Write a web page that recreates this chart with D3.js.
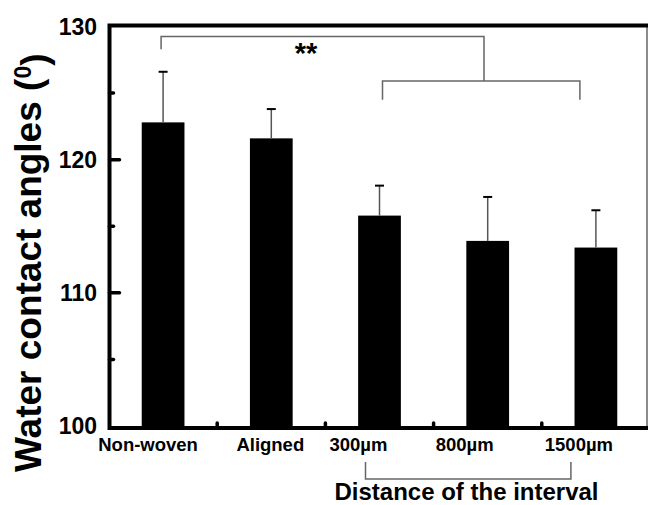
<!DOCTYPE html>
<html>
<head>
<meta charset="utf-8">
<script src="https://cdn.jsdelivr.net/npm/d3@7"></script>
<style>
  body { margin: 0; background: #fff; }
  text { font-family: Arial, "Liberation Sans", sans-serif; font-weight: bold; fill: #000; }
</style>
</head>
<body>
<div id="chart"></div>
<script>
var categories = ["Non-woven", "Aligned", "300\u00b5m", "800\u00b5m", "1500\u00b5m"];
var means = [122.8, 121.6, 115.8, 113.9, 113.4];
var errors = [3.8, 2.2, 2.25, 3.3, 2.8];
var majorTicks = [100, 110, 120, 130];
var minorTicks = [105, 115, 125];
// label nudges, the original labels sit a bit left of the bars
var labelShift = [-15, -1, -21, -23, -17];

var width = 649, height = 505;
var plotL = 109.5, plotR = 648, plotT = 25.5, plotB = 428;

var svg = d3.select("#chart").append("svg")
    .attr("width", width)
    .attr("height", height);

var x = d3.scaleBand()
    .domain(categories)
    .range([109, 650])
    .padding(0);

var y = d3.scaleLinear()
    .domain([100, 130])
    .range([426, 26.5]);

var barW = x.bandwidth() * 0.395;
function xc(c) { return x(c) + x.bandwidth() / 2; }

var data = categories.map(function(c, i) {
    return { cat: c, mean: means[i], err: errors[i], shift: labelShift[i] };
});

// bars
svg.selectAll(".bar")
    .data(data)
  .enter().append("rect")
    .attr("class", "bar")
    .attr("x", function(d) { return xc(d.cat) - barW / 2; })
    .attr("y", function(d) { return y(d.mean); })
    .attr("width", barW)
    .attr("height", function(d) { return y(100) - y(d.mean); })
    .style("fill", "#000");

// error bars (upper only)
svg.selectAll(".err")
    .data(data)
  .enter().append("line")
    .attr("x1", function(d) { return xc(d.cat); })
    .attr("x2", function(d) { return xc(d.cat); })
    .attr("y1", function(d) { return y(d.mean); })
    .attr("y2", function(d) { return y(d.mean + d.err); })
    .style("stroke", "#555")
    .style("stroke-width", 1.5);

svg.selectAll(".cap")
    .data(data)
  .enter().append("line")
    .attr("x1", function(d) { return xc(d.cat) - 4.5; })
    .attr("x2", function(d) { return xc(d.cat) + 4.5; })
    .attr("y1", function(d) { return y(d.mean + d.err); })
    .attr("y2", function(d) { return y(d.mean + d.err); })
    .style("stroke", "#000")
    .style("stroke-width", 2);

// frame
svg.append("line").attr("x1", plotR - 1).attr("x2", plotR - 1).attr("y1", plotT).attr("y2", plotB)
    .style("stroke", "#666").style("stroke-width", 1.5);
svg.append("path")
    .attr("d", "M" + plotR + "," + plotT + "H" + plotL + "V" + plotB + "H" + plotR)
    .style("fill", "none")
    .style("stroke", "#000")
    .style("stroke-width", 4);

// y ticks
svg.selectAll(".ymaj")
    .data(majorTicks.slice(1, 3))
  .enter().append("line")
    .attr("x1", plotL).attr("x2", plotL + 10)
    .attr("y1", function(d) { return y(d); })
    .attr("y2", function(d) { return y(d); })
    .style("stroke", "#000").style("stroke-width", 3.5).style("stroke-linecap", "round");

svg.selectAll(".ymin")
    .data(minorTicks)
  .enter().append("line")
    .attr("x1", plotL).attr("x2", plotL + 4)
    .attr("y1", function(d) { return y(d); })
    .attr("y2", function(d) { return y(d); })
    .style("stroke", "#000").style("stroke-width", 3.5).style("stroke-linecap", "round");

svg.selectAll(".ylab")
    .data(majorTicks)
  .enter().append("text")
    .attr("x", 97)
    .attr("y", function(d) { return y(d); })
    .attr("dy", "0.36em")
    .attr("text-anchor", "end")
    .style("font-size", "23px")
    .text(function(d) { return d; });

// x minor ticks between categories
svg.selectAll(".xmin")
    .data(categories.slice(1))
  .enter().append("line")
    .attr("x1", function(d) { return x(d); })
    .attr("x2", function(d) { return x(d); })
    .attr("y1", plotB).attr("y2", plotB - 5)
    .style("stroke", "#000").style("stroke-width", 3.5).style("stroke-linecap", "round");

svg.selectAll(".xlab")
    .data(data)
  .enter().append("text")
    .attr("x", function(d) { return xc(d.cat) + d.shift; })
    .attr("y", 451)
    .attr("text-anchor", "middle")
    .style("font-size", "18.5px")
    .text(function(d) { return d.cat; });

// y title
var yt = svg.append("text")
    .attr("transform", "translate(41," + 472 + ") rotate(-90)")
    .attr("text-anchor", "start")
    .style("font-size", "37px");
yt.append("tspan").text("Water contact angles (");
yt.append("tspan").attr("dy", "-0.45em").style("font-size", "23px").text("0");
yt.append("tspan").attr("dy", "0.45em").text(")");

// significance bracket at top
var gray = "#666";
var b1 = xc(categories[0]) - 2, bMid = 484, b2 = xc(categories[2]) + 3, b3 = xc(categories[4]) - 16;
svg.append("path")
    .attr("d", "M" + b1 + "," + y(128.3) + "V" + y(129.25) + "H" + bMid + "V" + y(125.9))
    .style("fill", "none").style("stroke", gray).style("stroke-width", 1.5);
svg.append("path")
    .attr("d", "M" + b2 + "," + y(124.5) + "V" + y(125.9) + "H" + b3 + "V" + y(124.5))
    .style("fill", "none").style("stroke", gray).style("stroke-width", 1.5);
svg.append("text")
    .attr("x", 306).attr("y", 63)
    .attr("text-anchor", "middle")
    .style("font-size", "29px")
    .text("**");

// group bracket under the interval labels
var g1 = xc(categories[2]) - 14, g2 = xc(categories[4]) - 25;
svg.append("path")
    .attr("d", "M" + g1 + ",462V479H" + g2 + "V462")
    .style("fill", "none").style("stroke", gray).style("stroke-width", 1.5);
svg.append("text")
    .attr("x", 466.5).attr("y", 500)
    .attr("text-anchor", "middle")
    .style("font-size", "24px")
    .text("Distance of the interval");
</script>
</body>
</html>
